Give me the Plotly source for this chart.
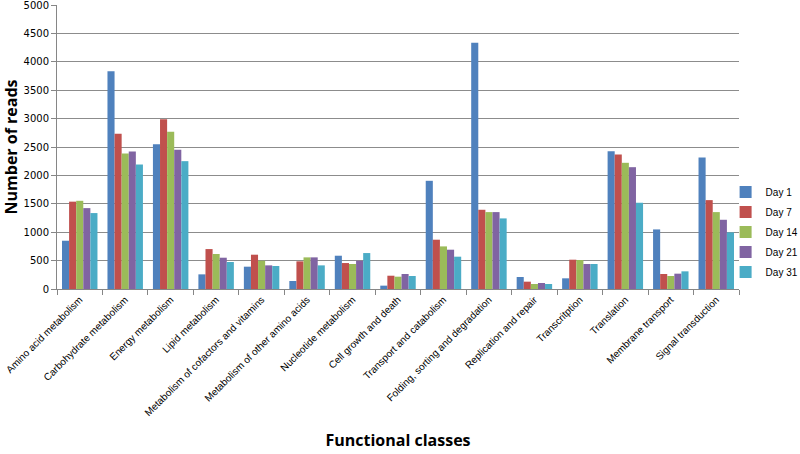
import plotly.graph_objects as go

categories = ["Amino acid metabolism", "Carbohydrate metabolism", "Energy metabolism",
              "Lipid metabolism", "Metabolism of cofactors and vitamins",
              "Metabolism of other amino acids", "Nucleotide metabolism",
              "Cell growth and death", "Transport and catabolism",
              "Folding, sorting and degradation", "Replication and repair",
              "Transcritption", "Translation", "Membrane transport", "Signal transduction"]

day1 = [850, 3834, 2550, 258, 393, 141, 586, 59, 1905, 4338, 211, 188, 2427, 1049, 2315]
day7 = [1538, 2732, 2990, 703, 604, 487, 457, 234, 868, 1395, 129, 516, 2368, 264, 1565]
day14 = [1553, 2386, 2767, 616, 498, 557, 440, 217, 750, 1354, 88, 510, 2222, 229, 1354]
day21 = [1424, 2421, 2450, 551, 416, 557, 498, 264, 692, 1354, 106, 440, 2145, 270, 1219]
day31 = [1337, 2192, 2251, 475, 405, 416, 633, 229, 569, 1243, 88, 440, 1518, 311, 997]

series_names = ["Day 1", "Day 7", "Day 14", "Day 21", "Day 31"]
series_values = [day1, day7, day14, day21, day31]
colors = ["#4F81BD", "#C0504D", "#9BBB59", "#8064A2", "#4BACC6"]

y_ticks = [0, 500, 1000, 1500, 2000, 2500, 3000, 3500, 4000, 4500, 5000]

fig = go.Figure()
for name, vals, c in zip(series_names, series_values, colors):
    fig.add_trace(go.Bar(x=categories, y=vals, name=name, marker_color=c,
                         marker_line_width=0, legendgroup=name))

fig.update_layout(
    width=800, height=454,
    margin=dict(l=57, r=61, t=5, b=165, autoexpand=False),
    paper_bgcolor="white", plot_bgcolor="white",
    barmode="group", bargap=0.22, bargroupgap=0,
    font=dict(family="Liberation Sans", size=11, color="#000000"),
    showlegend=True,
    legend=dict(xref="container", yref="container", x=0.907, y=0.489,
                xanchor="left", yanchor="middle",
                font=dict(family="Liberation Sans", size=10),
                itemwidth=30, tracegroupgap=1, bgcolor="rgba(0,0,0,0)"),
)
fig.update_xaxes(
    tickangle=-45, showline=True, linecolor="#868686", linewidth=1,
    ticks="outside", tickson="boundaries", ticklen=5, tickcolor="#868686",
    tickfont=dict(family="Liberation Sans", size=10), automargin=False,
    title=dict(text="<b>Functional classes</b>", font=dict(family="Open Sans", size=16), standoff=17),
    showgrid=False,
)
fig.update_yaxes(
    range=[0, 5000.5], tickvals=y_ticks, showgrid=True, gridcolor="#8C8C8C", gridwidth=1,
    showline=True, linecolor="#868686", linewidth=1, ticks="outside", ticklen=5,
    tickcolor="#868686", tickfont=dict(family="DejaVu Sans", size=10), automargin=False,
    ticklabeloverflow="allow",
    title=dict(text="<b>Number of reads</b>", font=dict(family="Open Sans", size=16), standoff=4),
    zeroline=False,
)

fig.write_html("out.html", config={"displayModeBar": False},
               post_script="document.body.style.margin='0';")
